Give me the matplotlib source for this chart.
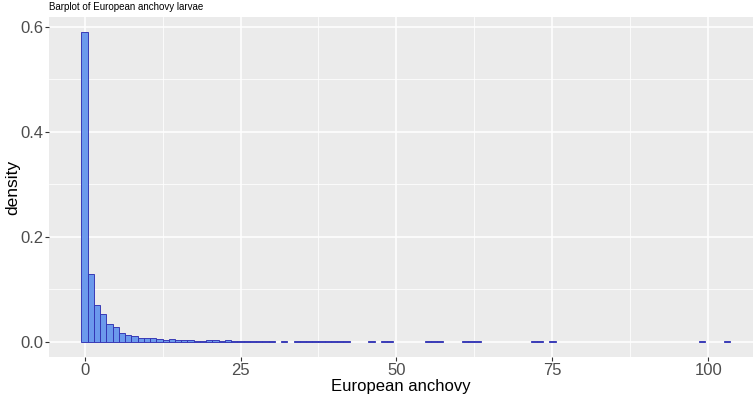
import numpy as np
import matplotlib
matplotlib.use("Agg")
import matplotlib.pyplot as plt
from matplotlib.ticker import MultipleLocator

plt.rcParams['font.family'] = ['Liberation Sans', 'DejaVu Sans']

# histogram bins (binwidth 1, centred on integers) and their densities
bin_centers = list(range(0, 31)) + [32] + list(range(34, 43)) + \
    [46, 48, 49, 55, 56, 57, 61, 62, 63, 72, 73, 75, 99, 103]
dens_low = [0.589, 0.128, 0.069, 0.052, 0.033, 0.027, 0.016, 0.012, 0.010,
            0.0068, 0.0068, 0.006, 0.0044, 0.003, 0.0057, 0.003, 0.003,
            0.002, 0.0015, 0.0015, 0.003, 0.003, 0.0012, 0.003, 0.001,
            0.001, 0.001, 0.0009, 0.0009, 0.0009, 0.0009]
dens_tail = [0.0008] * (len(bin_centers) - len(dens_low))
density = dens_low + dens_tail

x_ticks = [0, 25, 50, 75, 100]
y_ticks = [0.0, 0.2, 0.4, 0.6]

fig = plt.figure(figsize=(7.53, 3.96), dpi=100)
ax = fig.add_axes([49 / 753, 39 / 396, 704 / 753, 340 / 396])
ax.set_facecolor('#EBEBEB')

ax.bar(bin_centers, density, width=1.0, color='#6495ED', alpha=0.95,
       edgecolor=(0.2, 0.2, 0.7, 0.45), linewidth=0.7, zorder=3)

ax.set_xlim(-5.7, 107.15)
ax.set_ylim(-0.0295, 0.6185)
ax.set_xticks(x_ticks)
ax.set_xticklabels([str(t) for t in x_ticks])
ax.set_yticks(y_ticks)
ax.set_yticklabels(['%.1f' % t for t in y_ticks])
ax.xaxis.set_minor_locator(MultipleLocator(12.5))
ax.yaxis.set_minor_locator(MultipleLocator(0.1))

ax.grid(which='major', color='white', linewidth=1.1, zorder=0)
ax.grid(which='minor', color='white', linewidth=0.55, zorder=0)
ax.set_axisbelow(True)
for s in ax.spines.values():
    s.set_visible(False)

ax.tick_params(which='major', length=3, width=0.8, color='#333333',
               labelsize=12, labelcolor='#4D4D4D', pad=1)
ax.tick_params(which='minor', length=0)

ax.set_xlabel('European anchovy', fontsize=12, labelpad=1)
ax.set_ylabel('density', fontsize=12.5)
ax.yaxis.set_label_coords(-0.041, 0.5)
ax.set_title('Barplot of European anchovy larvae', fontsize=7, loc='left', pad=5)

fig.savefig('out.png', dpi=100)
